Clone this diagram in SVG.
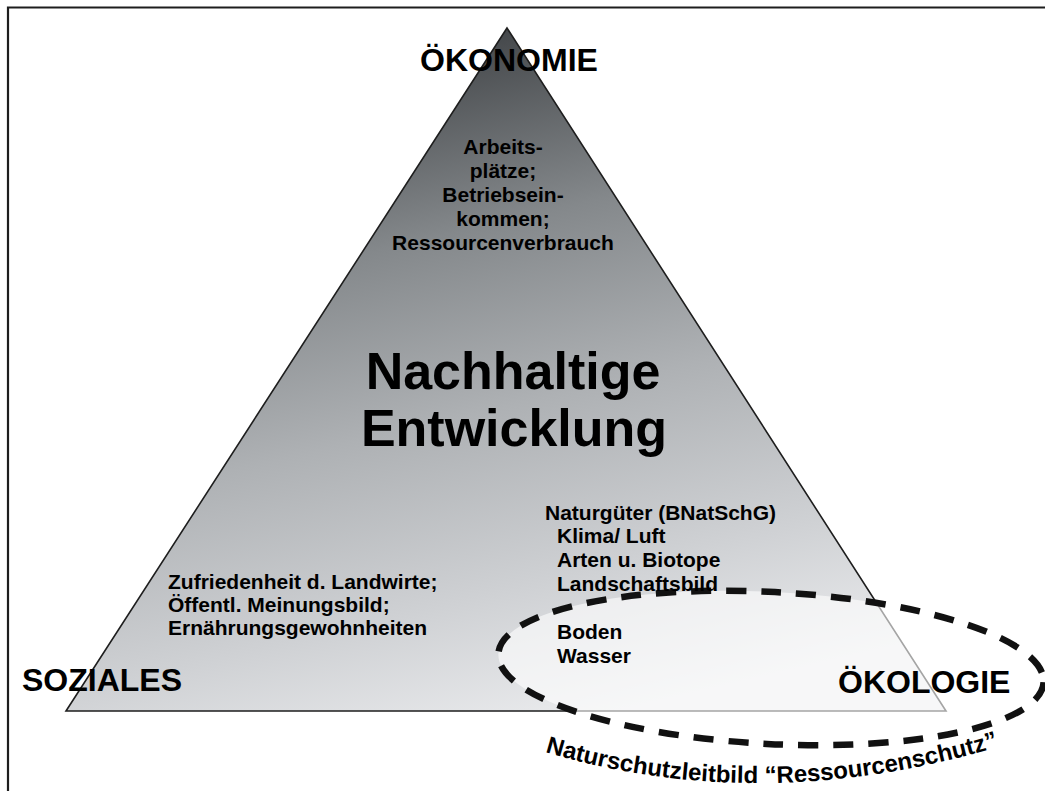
<svg xmlns="http://www.w3.org/2000/svg" width="1045" height="791" viewBox="0 0 1045 791">
<style>
text{font-family:"Liberation Sans",Arial,sans-serif;font-weight:bold;fill:#000}
.h{font-size:32px}
.s{font-size:21px}
.b{font-size:52px}
.c{font-size:24px}
.frame{stroke:#1e1e1e;stroke-width:2.2;fill:none}
</style>
<defs>
<linearGradient id="tri" x1="0.35" y1="0" x2="0.65" y2="1">
<stop offset="0" stop-color="#3a3d40"/>
<stop offset="0.3" stop-color="#84888b"/>
<stop offset="0.55" stop-color="#aeb1b4"/>
<stop offset="0.8" stop-color="#cfd1d4"/>
<stop offset="1" stop-color="#ebecee"/>
</linearGradient>
<path id="arc" d="M545 752 Q765 818 1008 744"/>
</defs>
<rect width="1045" height="791" fill="#fff"/>
<g id="frame">
<path class="frame" d="M8 791 V7.5 H1045"/>
</g>
<g id="pyramid">
<polygon points="507,28 66,711 946,711" fill="url(#tri)" stroke="#1e1e1e" stroke-width="1.6"/>
</g>
<g id="resource-zone">
<ellipse cx="771" cy="668" rx="273" ry="76" transform="rotate(3 771 668)" fill="#fff" fill-opacity="0.6" stroke="#111" stroke-width="6.5" stroke-dasharray="20 15"/>
</g>
<g id="oekonomie">
<text class="h" x="509" y="71" text-anchor="middle">ÖKONOMIE</text>
</g>
<g id="soziales">
<text class="h" x="22" y="691">SOZIALES</text>
</g>
<g id="oekologie">
<text class="h" x="838" y="693">ÖKOLOGIE</text>
</g>
<g id="center">
<text class="b" x="513" y="389" text-anchor="middle">Nachhaltige</text>
<text class="b" x="514" y="446" text-anchor="middle">Entwicklung</text>
</g>
<g id="econ-items">
<text class="s" x="503" text-anchor="middle"><tspan x="503" y="154">Arbeits-</tspan><tspan x="503" y="178">plätze;</tspan><tspan x="503" y="202">Betriebsein-</tspan><tspan x="503" y="226">kommen;</tspan><tspan x="503" y="250">Ressourcenverbrauch</tspan></text>
</g>
<g id="social-items">
<text class="s"><tspan x="168" y="589">Zufriedenheit d. Landwirte;</tspan><tspan x="168" y="612">Öffentl. Meinungsbild;</tspan><tspan x="168" y="635">Ernährungsgewohnheiten</tspan></text>
</g>
<g id="eco-items">
<text class="s"><tspan x="545" y="520">Naturgüter (BNatSchG)</tspan><tspan x="557" y="543">Klima/ Luft</tspan><tspan x="557" y="567">Arten u. Biotope</tspan><tspan x="557" y="591">Landschaftsbild</tspan><tspan x="557" y="639">Boden</tspan><tspan x="557" y="663">Wasser</tspan></text>
</g>
<g id="leitbild">
<text class="c"><textPath href="#arc">Naturschutzleitbild “Ressourcenschutz”</textPath></text>
</g>
</svg>
